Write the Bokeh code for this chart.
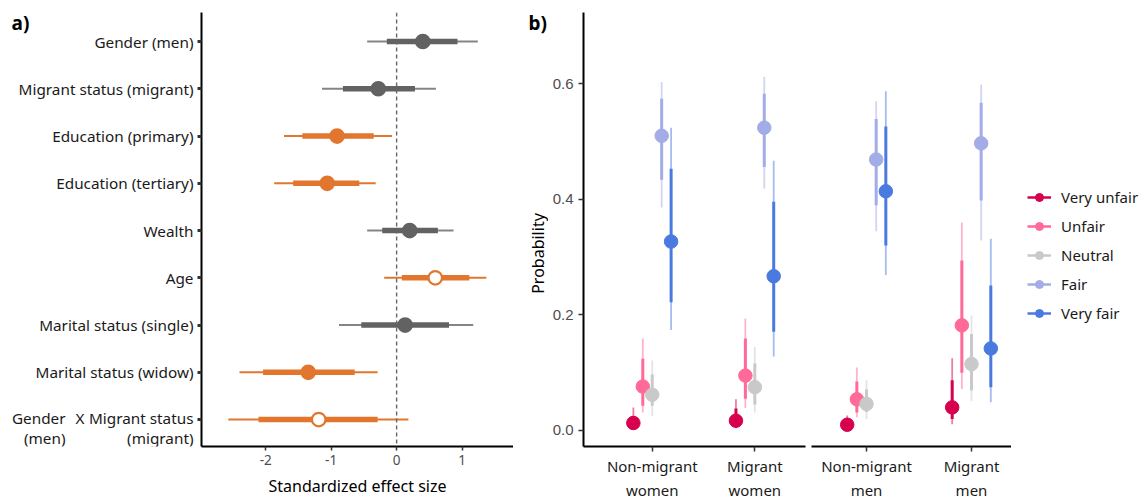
import math
from bokeh.plotting import figure
from bokeh.models import (ColumnDataSource, Range1d, FixedTicker, Span,
                          Legend, LegendItem, NumeralTickFormatter)
from bokeh.core.properties import value
from bokeh.layouts import row
from bokeh.embed import file_html
from bokeh.resources import INLINE

FONT = "Noto Sans"

# ---------------- Panel a data ----------------
terms = ["Gender (men)", "Migrant status (migrant)", "Education (primary)",
         "Education (tertiary)", "Wealth", "Age", "Marital status (single)",
         "Marital status (widow)"]
interaction_left = ["Gender", "(men)"]
interaction_sep = "X"
interaction_right = ["Migrant status", "(migrant)"]
effect = [0.40, -0.28, -0.91, -1.06, 0.20, 0.59, 0.13, -1.35, -1.19]
outer_lo = [-0.45, -1.14, -1.72, -1.87, -0.45, -0.19, -0.88, -2.40, -2.57]
outer_hi = [1.24, 0.60, -0.07, -0.32, 0.87, 1.37, 1.17, -0.29, 0.18]
inner_lo = [-0.15, -0.82, -1.44, -1.58, -0.22, 0.08, -0.54, -2.04, -2.11]
inner_hi = [0.93, 0.28, -0.35, -0.57, 0.63, 1.11, 0.80, -0.64, -0.29]
credible = [False, False, True, True, False, True, False, True, True]
open_marker = [False, False, False, False, False, True, False, False, True]
a_ticks = [-2, -1, 0, 1]

# ---------------- Panel b data ----------------
responses = ["Very unfair", "Unfair", "Neutral", "Fair", "Very fair"]
women_groups = ["Non-migrant\nwomen", "Migrant\nwomen"]
men_groups = ["Non-migrant\nmen", "Migrant\nmen"]

prob_nm_women = [0.013, 0.076, 0.062, 0.510, 0.327]
prob_m_women = [0.017, 0.095, 0.075, 0.524, 0.267]
prob_nm_men = [0.010, 0.054, 0.046, 0.469, 0.414]
prob_m_men = [0.040, 0.182, 0.115, 0.497, 0.142]

outer_lo_nm_women = [0.003, 0.031, 0.025, 0.386, 0.174]
outer_hi_nm_women = [0.040, 0.159, 0.121, 0.603, 0.524]
outer_lo_m_women = [0.004, 0.039, 0.031, 0.419, 0.128]
outer_hi_m_women = [0.054, 0.194, 0.144, 0.612, 0.467]
outer_lo_nm_men = [0.002, 0.023, 0.020, 0.345, 0.269]
outer_hi_nm_men = [0.026, 0.109, 0.087, 0.570, 0.587]
outer_lo_m_men = [0.011, 0.072, 0.051, 0.329, 0.049]
outer_hi_m_men = [0.125, 0.360, 0.199, 0.599, 0.332]

inner_lo_nm_women = [0.007, 0.043, 0.043, 0.434, 0.222]
inner_hi_nm_women = [0.025, 0.124, 0.097, 0.574, 0.453]
inner_lo_m_women = [0.009, 0.055, 0.045, 0.456, 0.171]
inner_hi_m_women = [0.038, 0.159, 0.116, 0.583, 0.396]
inner_lo_nm_men = [0.005, 0.031, 0.032, 0.390, 0.320]
inner_hi_nm_men = [0.018, 0.085, 0.071, 0.539, 0.526]
inner_lo_m_men = [0.020, 0.100, 0.069, 0.398, 0.075]
inner_hi_m_men = [0.087, 0.294, 0.167, 0.567, 0.251]

b_ticks = [0.0, 0.2, 0.4, 0.6]

# ---------------- styles ----------------
ORANGE = "#E2762F"
GRAY = "#626262"
GRAY_LIGHT = "#858585"
RESP_COLORS = ["#D6004F", "#FF6A98", "#C9C9C9", "#A3ACE6", "#4A7AE0"]
H = 502
TOP, BOTTOM = 12, 56
FRAME_BOTTOM = H - BOTTOM
LABEL_SIZE = "15.3px"


def style_axis(ax, label_size, label_color, tick_w=1.5, tick_out=4):
    ax.axis_line_color = "black"
    ax.axis_line_width = 2
    ax.major_tick_line_color = "#333333"
    ax.major_tick_line_width = tick_w
    ax.major_tick_out = tick_out
    ax.major_tick_in = 0
    ax.minor_tick_line_color = None
    ax.major_label_text_font = FONT
    ax.major_label_text_font_size = label_size
    ax.major_label_text_color = label_color
    ax.axis_label_text_font = FONT
    ax.axis_label_text_font_style = "normal"
    ax.axis_label_text_font_size = "16px"
    ax.axis_label_text_color = "black"


def base_fig(**kw):
    p = figure(output_backend="svg", toolbar_location=None, tools="",
               height=H, min_border_top=TOP, min_border_bottom=BOTTOM, **kw)
    p.outline_line_color = None
    p.grid.visible = False
    p.background_fill_color = "white"
    p.border_fill_color = "white"
    return p


def spacer(width, x_range, y_range):
    return base_fig(width=width, min_border_left=0, min_border_right=0,
                    x_axis_location=None, y_axis_location=None,
                    x_range=x_range, y_range=y_range)


def add_text(p, xs, ys, texts, align="right", size=LABEL_SIZE, bold=False,
             color="#1a1a1a", angle=0.0):
    src = ColumnDataSource(dict(x=xs, y=ys, t=texts))
    p.text(x="x", y="y", text="t", source=src, text_align=align,
           text_baseline="middle", text_font=value(FONT),
           text_font_size=value(size), text_color=color, angle=angle,
           text_font_style="bold" if bold else "normal")


# ================= Panel a =================
L_W = 195
A_LEFT, A_FW, A_RIGHT = 6, 312, 0
A_Y0, A_Y1 = 9.57, 0.386
a_y_range = Range1d(A_Y0, A_Y1)
pa = base_fig(width=A_LEFT + A_FW + A_RIGHT, min_border_left=A_LEFT,
              min_border_right=A_RIGHT,
              x_range=Range1d(-2.98, 1.785), y_range=a_y_range)

n_rows = len(effect)
ypos = list(range(1, n_rows + 1))
main_col = [ORANGE if c else GRAY for c in credible]
thin_col = [ORANGE if c else GRAY_LIGHT for c in credible]
fill_col = ["white" if o else c for o, c in zip(open_marker, main_col)]
src_a = ColumnDataSource(dict(y=ypos, est=effect, lo=outer_lo, hi=outer_hi,
                              ilo=inner_lo, ihi=inner_hi, col=main_col,
                              tcol=thin_col, fcol=fill_col))

pa.add_layout(Span(location=0, dimension="height", line_color="#666666",
                   line_dash="4 3", line_width=1.4))
pa.segment(x0="lo", x1="hi", y0="y", y1="y", line_color="tcol", line_width=2,
           source=src_a)
pa.segment(x0="ilo", x1="ihi", y0="y", y1="y", line_color="col", line_width=5.5,
           source=src_a)
pa.scatter(x="est", y="y", size=13.5, fill_color="fcol", line_color="col",
           line_width=2.2, source=src_a)

style_axis(pa.xaxis[0], "13.5px", "#4d4d4d")
pa.xaxis.ticker = FixedTicker(ticks=a_ticks)
pa.xaxis.formatter = NumeralTickFormatter(format="0")
pa.xaxis.axis_label = "Standardized effect size"
pa.xaxis.major_label_standoff = 4
pa.xaxis.axis_label_standoff = 7

style_axis(pa.yaxis[0], "1px", "#1a1a1a", tick_w=3, tick_out=4)
pa.yaxis.ticker = FixedTicker(ticks=ypos)
pa.yaxis.major_label_standoff = 0
pa.yaxis.major_label_overrides = {y: "" for y in ypos}

# panel a row labels (share the y scale of panel a)
pl_a = spacer(L_W, Range1d(0, L_W), a_y_range)
LAB_X = L_W - 2
add_text(pl_a, [LAB_X] * len(terms), ypos[:len(terms)], terms)
row_px = (FRAME_BOTTOM - TOP) / (A_Y0 - A_Y1)
yi = ypos[-1]
y_l1 = yi - 1.3 / row_px
y_l2 = yi + 18.7 / row_px
add_text(pl_a, [65, 65], [y_l1, y_l2], interaction_left)
add_text(pl_a, [79.5], [y_l1], [interaction_sep], align="center")
add_text(pl_a, [LAB_X, LAB_X], [y_l1, y_l2], interaction_right)
add_text(pl_a, [11], [A_Y1 + 10 / row_px], ["a)"], align="left", size="19px",
         bold=True, color="black")

# ================= Panel b =================
DODGE = 0.092


def facet_source(probs, olos, ohis, ilos, ihis):
    xs, ys, ol, oh, il, ih, cs = [], [], [], [], [], [], []
    for g, (pr, a, b, c, d) in enumerate(zip(probs, olos, ohis, ilos, ihis)):
        for k in range(len(responses)):
            xs.append(g + 1 + (k - 2) * DODGE)
            ys.append(pr[k]); ol.append(a[k]); oh.append(b[k])
            il.append(c[k]); ih.append(d[k]); cs.append(RESP_COLORS[k])
    return ColumnDataSource(dict(x=xs, y=ys, ol=ol, oh=oh, il=il, ih=ih, c=cs))


def draw_facet(p, src):
    p.segment(x0="x", x1="x", y0="ol", y1="oh", line_color="c", line_alpha=0.5,
              line_width=1.8, source=src)
    p.segment(x0="x", x1="x", y0="il", y1="ih", line_color="c", line_width=3,
              source=src)
    p.scatter(x="x", y="y", size=13.5, fill_color="c", line_color="c",
              line_width=1, source=src)


def style_facet_x(p, labels):
    style_axis(p.xaxis[0], "15px", "#1a1a1a", tick_out=5)
    p.xaxis.ticker = FixedTicker(ticks=[1, 2])
    p.xaxis.major_label_overrides = {1: labels[0], 2: labels[1]}
    p.xaxis.major_label_standoff = 4


# spacer holding "b)" and the y axis title
M_X0, M_W = 513, 35
pm = spacer(M_W, Range1d(M_X0, M_X0 + M_W), Range1d(FRAME_BOTTOM, TOP))
add_text(pm, [528], [22], ["b)"], align="left", size="19px", bold=True,
         color="black")
add_text(pm, [537], [253], ["Probability"], align="center", size="16px",
         color="black", angle=math.pi / 2)

# facet 1 : women
P2_LEFT, P2_FW, P2_RIGHT = 35, 222, 3
pb1 = base_fig(width=P2_LEFT + P2_FW + P2_RIGHT, min_border_left=P2_LEFT,
               min_border_right=P2_RIGHT,
               x_range=Range1d(0.33, 2.494), y_range=Range1d(-0.0277, 0.7234))
draw_facet(pb1, facet_source([prob_nm_women, prob_m_women],
                             [outer_lo_nm_women, outer_lo_m_women],
                             [outer_hi_nm_women, outer_hi_m_women],
                             [inner_lo_nm_women, inner_lo_m_women],
                             [inner_hi_nm_women, inner_hi_m_women]))
style_facet_x(pb1, women_groups)
style_axis(pb1.yaxis[0], "15px", "#4d4d4d", tick_out=5)
pb1.yaxis.major_label_text_font = "Liberation Sans"
pb1.yaxis.ticker = FixedTicker(ticks=b_ticks)
pb1.yaxis.formatter = NumeralTickFormatter(format="0.0")
pb1.yaxis.major_label_standoff = 5

# facet 2 : men
P3_LEFT, P3_FW = 3, 200
pb2 = base_fig(width=P3_LEFT + P3_FW, min_border_left=P3_LEFT,
               min_border_right=0, y_axis_location=None,
               x_range=Range1d(0.476, 2.381), y_range=pb1.y_range)
draw_facet(pb2, facet_source([prob_nm_men, prob_m_men],
                             [outer_lo_nm_men, outer_lo_m_men],
                             [outer_hi_nm_men, outer_hi_m_men],
                             [inner_lo_nm_men, inner_lo_m_men],
                             [inner_hi_nm_men, inner_hi_m_men]))
style_facet_x(pb2, men_groups)

# legend panel
used = L_W + (A_LEFT + A_FW + A_RIGHT) + M_W + (P2_LEFT + P2_FW + P2_RIGHT) \
    + (P3_LEFT + P3_FW)
pl = spacer(1142 - used, Range1d(0, 1), Range1d(0, 1))
items = []
for name, c in zip(responses, RESP_COLORS):
    r1 = pl.segment(x0=[-10], x1=[-9], y0=[-10], y1=[-10], line_color=c,
                    line_width=2.5)
    r2 = pl.scatter(x=[-10], y=[-10], size=13.5, fill_color=c, line_color=c)
    items.append(LegendItem(label=name, renderers=[r1, r2]))
leg = Legend(items=items, location=(16, 123), margin=0, padding=7,
             glyph_width=24, glyph_height=20, label_height=20, spacing=9,
             label_standoff=10, label_text_font=FONT,
             label_text_font_size="15px", label_text_color="#1a1a1a",
             background_fill_alpha=0, border_line_color=None)
pl.add_layout(leg)

layout = row(pl_a, pa, pm, pb1, pb2, pl)
open("out.html", "w").write(file_html(layout, INLINE))
